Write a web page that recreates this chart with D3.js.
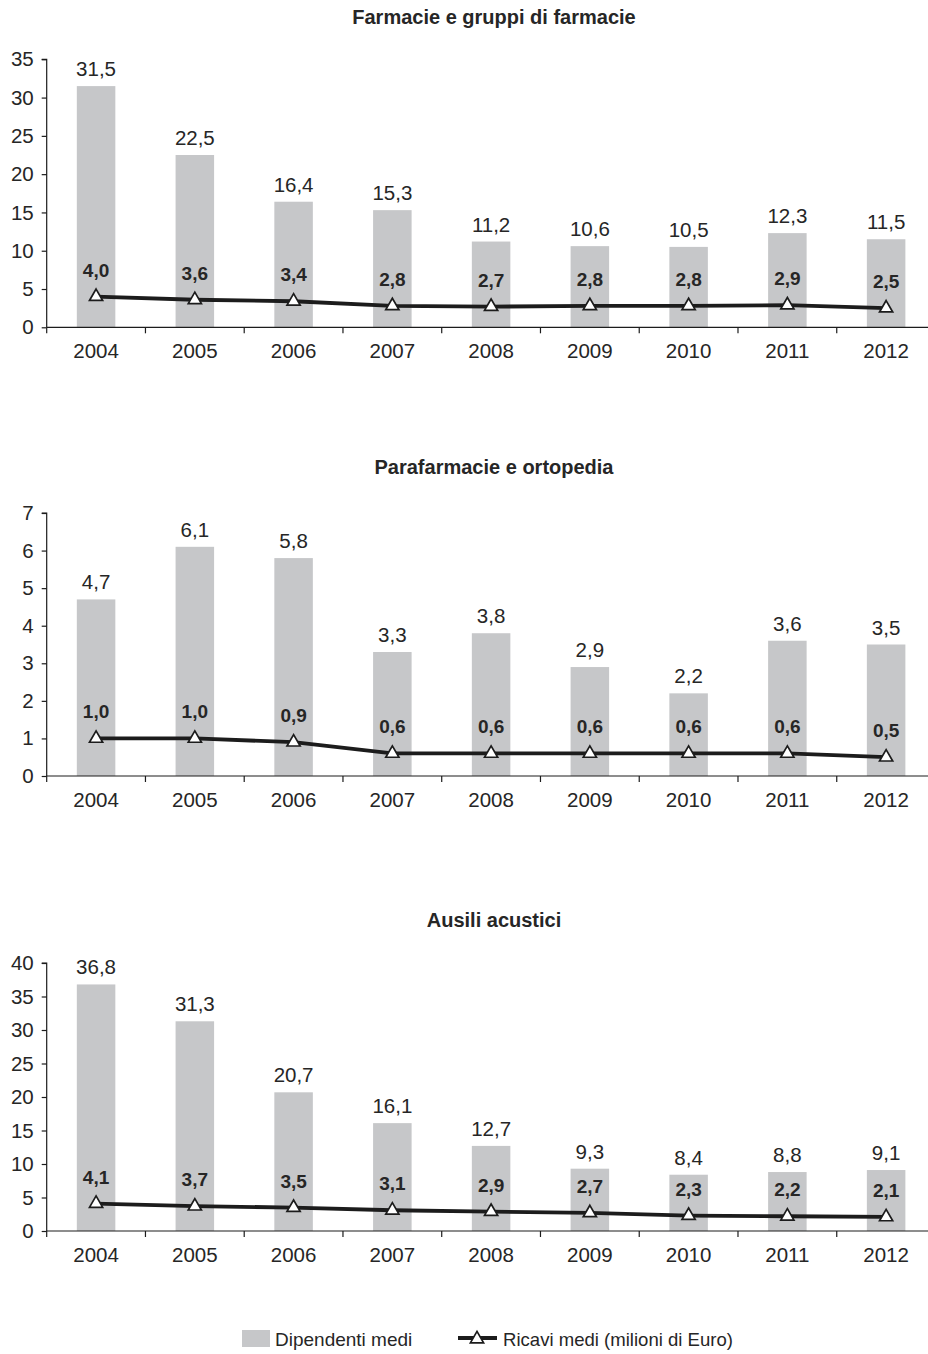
<!DOCTYPE html>
<html>
<head>
<meta charset="utf-8">
<script src="https://cdn.jsdelivr.net/npm/d3@7"></script>
<style>
  html, body { margin: 0; padding: 0; background: #fff; }
  svg { display: block; font-family: "Liberation Sans", Arial, sans-serif; }
</style>
</head>
<body>
<svg id="chart" width="928" height="1354"></svg>
<script>
// Years shared by all three panels
const years = ["2004", "2005", "2006", "2007", "2008", "2009", "2010", "2011", "2012"];

// Panel titles
const titles = ["Farmacie e gruppi di farmacie", "Parafarmacie e ortopedia", "Ausili acustici"];

// Average employees (bars)
const dipendentiFarmacie = [31.5, 22.5, 16.4, 15.3, 11.2, 10.6, 10.5, 12.3, 11.5];
const dipendentiParafarmacie = [4.7, 6.1, 5.8, 3.3, 3.8, 2.9, 2.2, 3.6, 3.5];
const dipendentiAusili = [36.8, 31.3, 20.7, 16.1, 12.7, 9.3, 8.4, 8.8, 9.1];

// Average revenue, millions of euro (line)
const ricaviFarmacie = [4.0, 3.6, 3.4, 2.8, 2.7, 2.8, 2.8, 2.9, 2.5];
const ricaviParafarmacie = [1.0, 1.0, 0.9, 0.6, 0.6, 0.6, 0.6, 0.6, 0.5];
const ricaviAusili = [4.1, 3.7, 3.5, 3.1, 2.9, 2.7, 2.3, 2.2, 2.1];

// Y-axis tick values
const ticksFarmacie = [0, 5, 10, 15, 20, 25, 30, 35];
const ticksParafarmacie = [0, 1, 2, 3, 4, 5, 6, 7];
const ticksAusili = [0, 5, 10, 15, 20, 25, 30, 35, 40];

// Legend labels
const legendLabels = ["Dipendenti medi", "Ricavi medi (milioni di Euro)"];

const BAR = "#c6c7c9";
const INK = "#1c1c1c";
const TXT = "#262626";

const fmt = v => d3.format(".1f")(v).replace(".", ",");

const panels = [
  { title: titles[0], bars: dipendentiFarmacie, line: ricaviFarmacie, ticks: ticksFarmacie, zeroY: 327.3, height: 268, titleY: 24 },
  { title: titles[1], bars: dipendentiParafarmacie, line: ricaviParafarmacie, ticks: ticksParafarmacie, zeroY: 776, height: 263, titleY: 474 },
  { title: titles[2], bars: dipendentiAusili, line: ricaviAusili, ticks: ticksAusili, zeroY: 1231, height: 268, titleY: 927 }
];

const svg = d3.select("#chart");
const left = 46.7, right = 935.5;

const x = d3.scaleBand().domain(years).range([left, right]).padding(0);
const bw = x.bandwidth();
const barW = bw * 0.39;

panels.forEach(p => {
  const g = svg.append("g");
  const y = d3.scaleLinear()
    .domain([0, d3.max(p.ticks)])
    .range([p.zeroY, p.zeroY - p.height]);

  // Title
  g.append("text")
    .attr("x", 494)
    .attr("y", p.titleY)
    .attr("text-anchor", "middle")
    .attr("font-size", 20)
    .attr("font-weight", "bold")
    .attr("fill", TXT)
    .text(p.title);

  // Bars
  g.selectAll("rect.bar")
    .data(p.bars)
    .join("rect")
    .attr("class", "bar")
    .attr("x", (d, i) => x(years[i]) + (bw - barW) / 2)
    .attr("y", d => y(d))
    .attr("width", barW)
    .attr("height", d => y(0) - y(d))
    .attr("fill", BAR);

  // Bar value labels
  g.selectAll("text.barlab")
    .data(p.bars)
    .join("text")
    .attr("class", "barlab")
    .attr("x", (d, i) => x(years[i]) + bw / 2)
    .attr("y", d => y(d) - 10)
    .attr("text-anchor", "middle")
    .attr("font-size", 20.5)
    .attr("fill", TXT)
    .text(fmt);

  // Y axis
  const yAxis = d3.axisLeft(y).tickValues(p.ticks).tickSize(5).tickPadding(8).tickFormat(d3.format("d"));
  const ya = g.append("g").attr("transform", `translate(${left},0)`).call(yAxis);
  ya.select(".domain").attr("stroke", INK).attr("stroke-width", 1.2).attr("d", `M-5,${y(d3.max(p.ticks))}H0V${y(0)}`);
  ya.selectAll(".tick line").attr("stroke", INK).attr("stroke-width", 1.2);
  ya.selectAll(".tick text").attr("font-size", 20.5).attr("fill", TXT).attr("font-family", "Liberation Sans, Arial, sans-serif");

  // X axis baseline, boundary ticks and year labels
  g.append("line")
    .attr("x1", left).attr("x2", right)
    .attr("y1", y(0)).attr("y2", y(0))
    .attr("stroke", INK).attr("stroke-width", 1.2);
  g.selectAll("line.xt")
    .data(years)
    .join("line")
    .attr("class", "xt")
    .attr("x1", d => x(d)).attr("x2", d => x(d))
    .attr("y1", y(0)).attr("y2", y(0) + 6)
    .attr("stroke", INK).attr("stroke-width", 1.2);
  g.selectAll("text.xl")
    .data(years)
    .join("text")
    .attr("class", "xl")
    .attr("x", d => x(d) + bw / 2)
    .attr("y", y(0) + 31)
    .attr("text-anchor", "middle")
    .attr("font-size", 20.5)
    .attr("fill", TXT)
    .text(d => d);

  // Revenue line
  const line = d3.line()
    .x((d, i) => x(years[i]) + bw / 2)
    .y(d => y(d));
  g.append("path")
    .datum(p.line)
    .attr("d", line)
    .attr("fill", "none")
    .attr("stroke", INK)
    .attr("stroke-width", 3.8)
    .attr("stroke-linejoin", "round");

  // Triangle markers
  g.selectAll("path.mk")
    .data(p.line)
    .join("path")
    .attr("class", "mk")
    .attr("d", d3.symbol(d3.symbolTriangle, 75))
    .attr("transform", (d, i) => `translate(${x(years[i]) + bw / 2},${y(d)})`)
    .attr("fill", "#fff")
    .attr("stroke", INK)
    .attr("stroke-width", 1.7);

  // Revenue value labels
  g.selectAll("text.linelab")
    .data(p.line)
    .join("text")
    .attr("class", "linelab")
    .attr("x", (d, i) => x(years[i]) + bw / 2)
    .attr("y", d => y(d) - 20)
    .attr("text-anchor", "middle")
    .attr("font-size", 19)
    .attr("font-weight", "bold")
    .attr("fill", TXT)
    .text(fmt);
});

// Legend
const lg = svg.append("g");
lg.append("rect")
  .attr("x", 242).attr("y", 1330)
  .attr("width", 28).attr("height", 17)
  .attr("fill", BAR);
lg.append("text")
  .attr("x", 275).attr("y", 1346)
  .attr("font-size", 19)
  .attr("fill", TXT)
  .text(legendLabels[0]);
lg.append("line")
  .attr("x1", 458).attr("x2", 497)
  .attr("y1", 1338).attr("y2", 1338)
  .attr("stroke", INK).attr("stroke-width", 3.8);
lg.append("path")
  .attr("d", d3.symbol(d3.symbolTriangle, 75))
  .attr("transform", "translate(477,1339)")
  .attr("fill", "#fff").attr("stroke", INK).attr("stroke-width", 1.7);
lg.append("text")
  .attr("x", 503).attr("y", 1346)
  .attr("font-size", 19)
  .attr("textLength", 230)
  .attr("lengthAdjust", "spacingAndGlyphs")
  .attr("fill", TXT)
  .text(legendLabels[1]);
</script>
</body>
</html>
